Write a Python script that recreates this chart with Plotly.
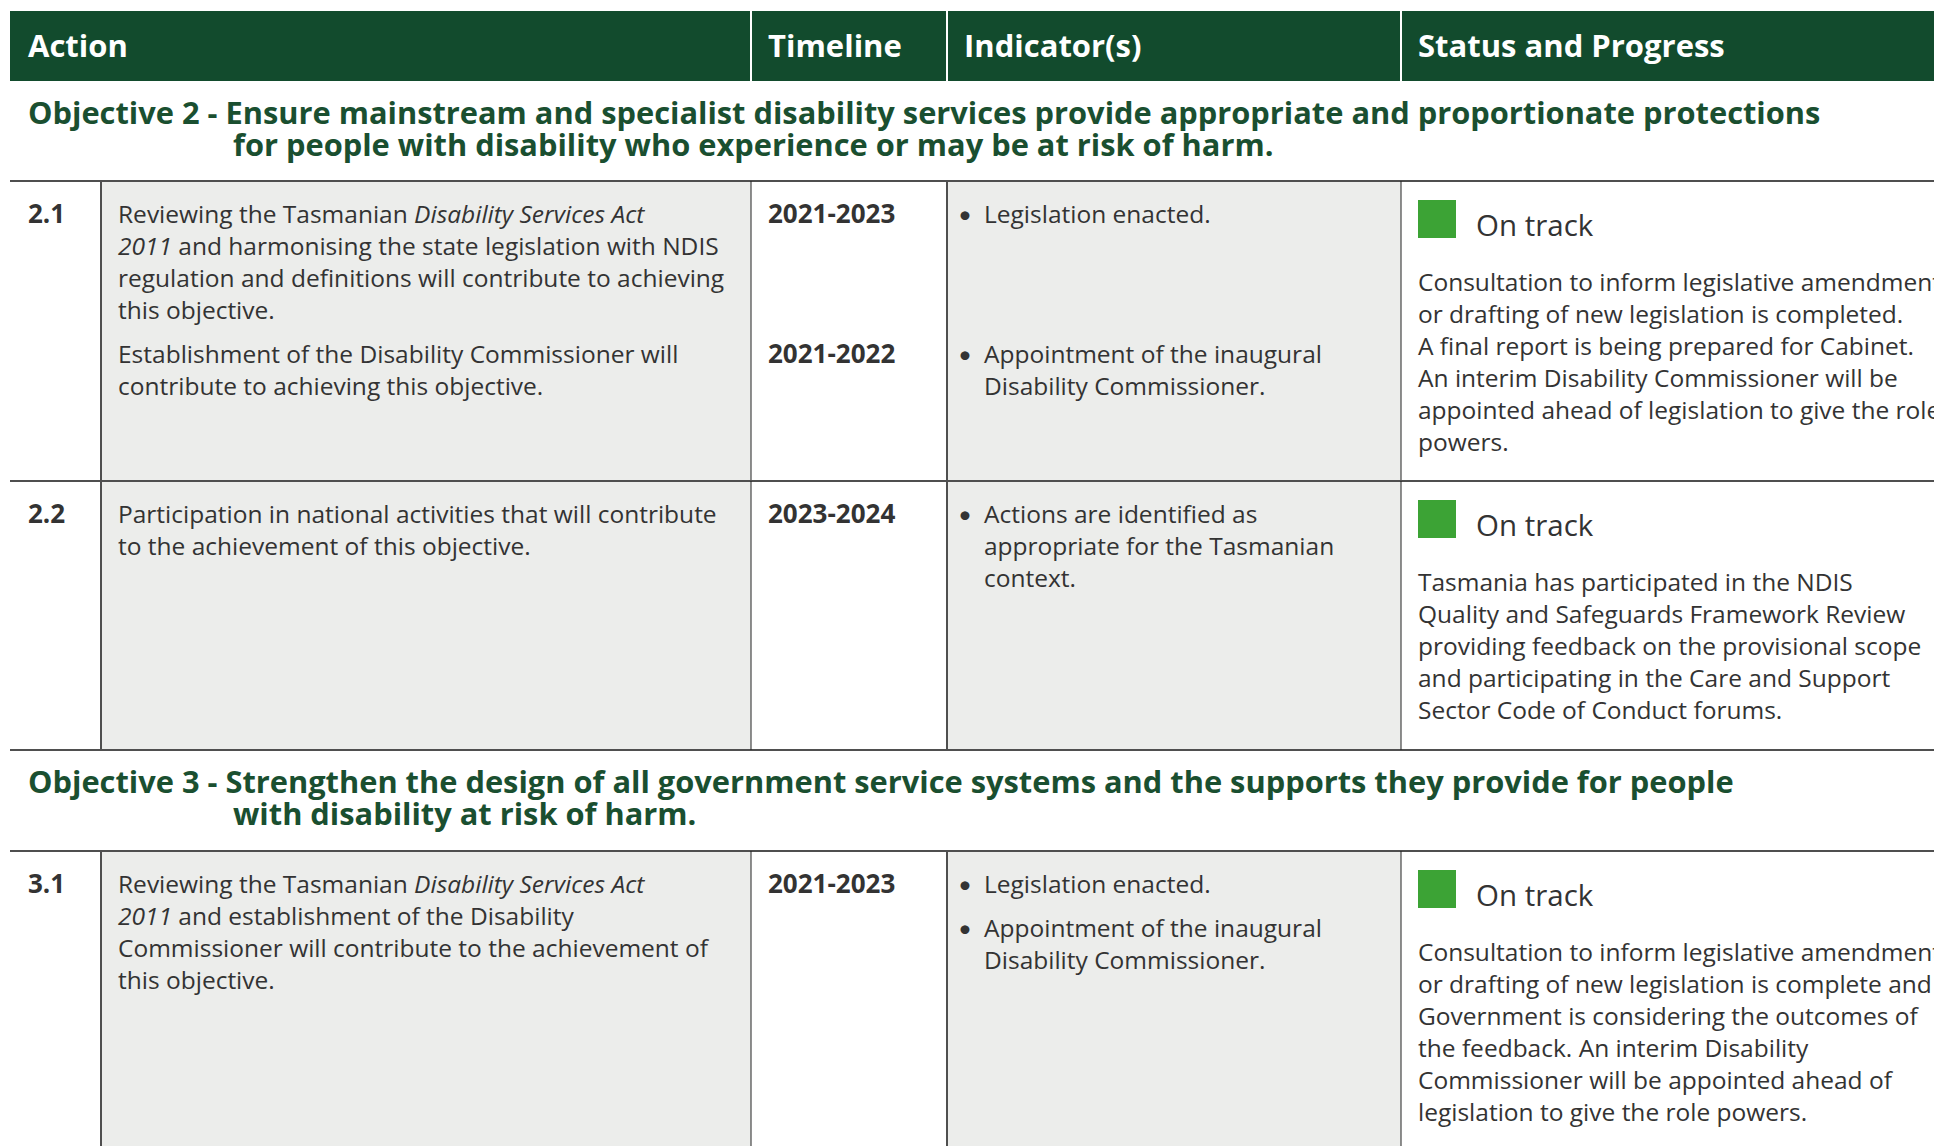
import plotly.graph_objects as go

# ---------------- data ----------------
header_labels = ["Action", "Timeline", "Indicator(s)", "Status and Progress"]

objective_titles = [
    ["Objective 2 - Ensure mainstream and specialist disability services provide appropriate and proportionate protections",
     "for people with disability who experience or may be at risk of harm."],
    ["Objective 3 - Strengthen the design of all government service systems and the supports they provide for people",
     "with disability at risk of harm."],
]

action_ids = ["2.1", "2.2", "3.1"]

# each action row is a list of sub-entries: (action paragraph lines, timeline, indicator paragraphs)
action_paragraphs = [
    [["Reviewing the Tasmanian <i>Disability Services Act</i>",
      "<i>2011</i> and harmonising the state legislation with NDIS",
      "regulation and definitions will contribute to achieving",
      "this objective."],
     ["Establishment of the Disability Commissioner will",
      "contribute to achieving this objective."]],
    [["Participation in national activities that will contribute",
      "to the achievement of this objective."]],
    [["Reviewing the Tasmanian <i>Disability Services Act</i>",
      "<i>2011</i> and establishment of the Disability",
      "Commissioner will contribute to the achievement of",
      "this objective."]],
]

timelines = [["2021-2023", "2021-2022"], ["2023-2024"], ["2021-2023"]]

indicators = [
    [[["Legislation enacted."]],
     [["Appointment of the inaugural", "Disability Commissioner."]]],
    [[["Actions are identified as", "appropriate for the Tasmanian", "context."]]],
    [[["Legislation enacted."],
      ["Appointment of the inaugural", "Disability Commissioner."]]],
]

status_labels = ["On track", "On track", "On track"]

progress_notes = [
    ["Consultation to inform legislative amendments",
     "or drafting of new legislation is completed.",
     "A final report is being prepared for Cabinet.",
     "An interim Disability Commissioner will be",
     "appointed ahead of legislation to give the role",
     "powers."],
    ["Tasmania has participated in the NDIS",
     "Quality and Safeguards Framework Review",
     "providing feedback on the provisional scope",
     "and participating in the Care and Support",
     "Sector Code of Conduct forums."],
    ["Consultation to inform legislative amendments",
     "or drafting of new legislation is complete and",
     "Government is considering the outcomes of",
     "the feedback. An interim Disability",
     "Commissioner will be appointed ahead of",
     "legislation to give the role powers."],
]

# ---------------- layout / style ----------------
W, H = 1934, 1146
LEFT = 10
COL_EDGES = [LEFT, 101, 751, 947, 1401, W]
HEADER_TOP, HEADER_BOT = 11, 81
HEADER_TEXT_X = [27, 767, 963, 1417]
OBJ_TOPS = [81, 750]          # objective band tops
ROW_TOPS = [181, 481, 851]    # action row tops
ROW_BOTS = [481, 750, H]

GREEN_DARK = "#124b2d"
GREEN_OBJ = "#1a4f30"
GREEN_SQ = "#3ca335"
GREY_BG = "#ecedeb"
TEXT = "#333333"
LINE = "#4f4f4f"
BODY_FONT = "Open Sans"
HEAD_FONT = "Open Sans"
FS = 24.5
LH = 32
PARA_GAP = 12

fig = go.Figure()
fig.add_trace(go.Scatter(x=[0, W], y=[0, H], mode="markers",
                         marker=dict(opacity=0), hoverinfo="skip", showlegend=False))

shapes = []
annotations = []


def txt(x, baseline, s, size=FS, color=TEXT, weight="normal", family=BODY_FONT):
    annotations.append(dict(
        x=x, y=baseline - 0.39 * size, xref="x", yref="y", text=s,
        showarrow=False, xanchor="left", yanchor="middle", borderpad=0,
        font=dict(family=family, size=size, color=color, weight=weight)))


def rect(x0, y0, x1, y1, fill):
    shapes.append(dict(type="rect", x0=x0, y0=y0, x1=x1, y1=y1, xref="x", yref="y",
                       fillcolor=fill, line=dict(width=0), layer="below"))


def line(x0, y0, x1, y1, color=LINE, width=2):
    shapes.append(dict(type="line", x0=x0, y0=y0, x1=x1, y1=y1, xref="x", yref="y",
                       line=dict(color=color, width=width), layer="above"))


# header
rect(LEFT, HEADER_TOP, W, HEADER_BOT, GREEN_DARK)
for xe in COL_EDGES[2:5]:
    line(xe, HEADER_TOP, xe, HEADER_BOT, color="white", width=2)
for lab, xh in zip(header_labels, HEADER_TEXT_X):
    txt(xh, 57, lab, size=31, color="white", weight="bold", family=HEAD_FONT)

# objectives
for (l1, l2), ot in zip(objective_titles, OBJ_TOPS):
    txt(27, ot + 43, l1, size=30.8, color=GREEN_OBJ, weight="bold", family=HEAD_FONT)
    txt(232, ot + 75, l2, size=30.8, color=GREEN_OBJ, weight="bold", family=HEAD_FONT)

# rows
for i, (rid, top, bot) in enumerate(zip(action_ids, ROW_TOPS, ROW_BOTS)):
    rect(COL_EDGES[1], top, COL_EDGES[2], bot, GREY_BG)
    rect(COL_EDGES[3], top, COL_EDGES[4], bot, GREY_BG)
    line(LEFT, top, W, top, width=2.2)
    if bot < H:
        line(LEFT, bot, W, bot, width=2.2)
    line(COL_EDGES[1], top, COL_EDGES[1], bot, width=2)
    line(COL_EDGES[2], top, COL_EDGES[2], bot, color="#222", width=1)
    line(COL_EDGES[3], top, COL_EDGES[3], bot, width=2)
    line(COL_EDGES[4], top, COL_EDGES[4], bot, color="#222", width=1)

    b0 = top + 42
    txt(27, b0, rid, size=26, weight="bold")
    start = b0
    for para, tl, inds in zip(action_paragraphs[i], timelines[i], indicators[i]):
        for k, s in enumerate(para):
            txt(117, start + k * LH, s)
        txt(767, start, tl, size=26, weight="bold")
        yb = start
        n_ind = 0
        for ip in inds:
            txt(957, yb, "•", size=24, family="Lato")
            for k, s in enumerate(ip):
                txt(983, yb + k * LH, s)
            yb += len(ip) * LH + PARA_GAP
            n_ind += len(ip)
        start += max(len(para), n_ind) * LH + PARA_GAP

    # status
    rect(1418, top + 19, 1456, top + 57, GREEN_SQ)
    txt(1475, top + 55, status_labels[i], size=29.5)
    for k, s in enumerate(progress_notes[i]):
        txt(1417, top + 110 + k * LH, s)

fig.update_layout(
    width=W, height=H,
    margin=dict(l=0, r=0, t=0, b=0),
    paper_bgcolor="white", plot_bgcolor="white",
    xaxis=dict(range=[0, W], visible=False, fixedrange=True),
    yaxis=dict(range=[H, 0], visible=False, fixedrange=True),
    shapes=shapes, annotations=annotations, showlegend=False,
)

fig.write_html("out.html",
               config={"displayModeBar": False},
               post_script="document.body.style.margin='0';document.body.style.overflow='hidden';")
